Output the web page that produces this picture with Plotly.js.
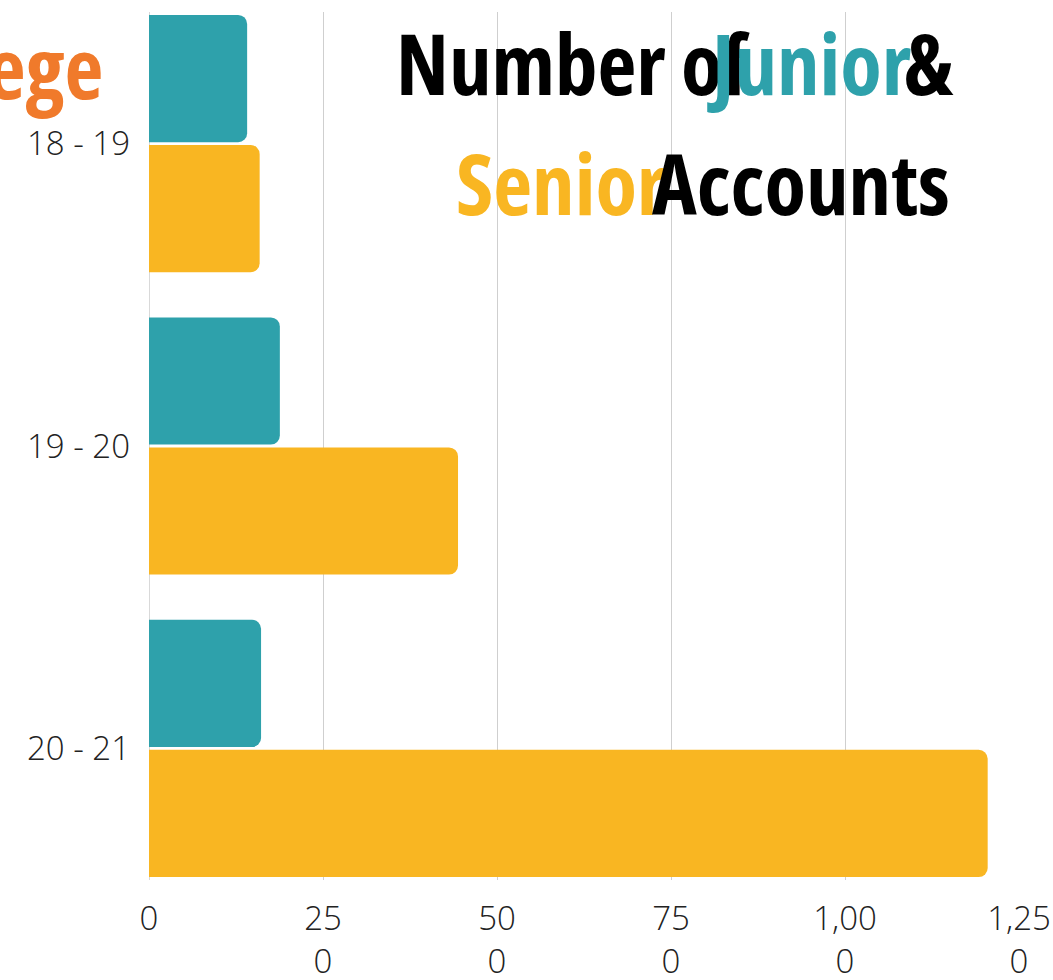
<!DOCTYPE html>
<html>
<head>
<meta charset="utf-8">
<script src="https://cdn.plot.ly/plotly-3.0.1.min.js"></script>
<style>
html,body{margin:0;padding:0;background:#fff;}
#chart{width:1053px;height:980px;}
.annotation-text{font-stretch:75% !important;}
</style>
</head>
<body>
<div id="chart"></div>
<script>
const categories = ['18 - 19', '19 - 20', '20 - 21'];
const juniorValues = [141, 188, 161];
const seniorValues = [159, 444, 1205];
const xTickVals = [0, 250, 500, 750, 1000, 1250];
const xTickText = ['0', '25<br>0', '50<br>0', '75<br>0', '1,00<br>0', '1,25<br>0'];
const seriesNames = ['Junior', 'Senior'];

const TEAL = '#2EA1AB';
const YELLOW = '#F9B622';
const ORANGE = '#F07A2B';
const W = 1053, H = 980;
const M = {l: 149, r: 34, t: 12, b: 100};
const plotW = W - M.l - M.r, plotH = H - M.t - M.b;
const px = x => (x - M.l) / plotW;
const py = y => (H - M.b - y) / plotH;

const titleFont = (c) => ({family: '"Open Sans", sans-serif', size: 85, color: c, weight: 700});

function ann(text, x, y, color, xanchor) {
  return {text: text, xref: 'paper', yref: 'paper', x: px(x), y: py(y), xanchor: xanchor || 'left', yanchor: 'middle',
    showarrow: false, font: titleFont(color), borderpad: 0};
}

const data = [
  {type: 'bar', orientation: 'h', name: seriesNames[0], y: categories, x: juniorValues, marker: {color: TEAL, line: {width: 0}}, hoverinfo: 'none'},
  {type: 'bar', orientation: 'h', name: seriesNames[1], y: categories, x: seniorValues, marker: {color: YELLOW, line: {width: 0}}, hoverinfo: 'none'}
];

const layout = {
  width: W, height: H,
  margin: M,
  paper_bgcolor: '#fff', plot_bgcolor: '#fff',
  showlegend: false,
  barmode: 'group',
  bargap: 0.14,
  bargroupgap: 0.022,
  barcornerradius: 9,
  xaxis: {
    range: [0, 1250], tickvals: xTickVals, ticktext: xTickText,
    showgrid: true, gridcolor: '#cfcfcf', gridwidth: 1,
    zeroline: true, zerolinecolor: '#d9d9d9', zerolinewidth: 1,
    showline: false, ticks: '', ticklabelstandoff: 16,
    tickfont: {family: '"Open Sans", sans-serif', size: 33, color: '#222', weight: 300},
    fixedrange: true
  },
  yaxis: {
    type: 'category', range: [2.435, -0.435],
    showgrid: false, zeroline: false, showline: false, ticks: '',
    ticklabelstandoff: 18,
    tickfont: {family: '"Open Sans", sans-serif', size: 33, color: '#222', weight: 300},
    fixedrange: true
  },
  annotations: [
    ann('College', 104, 66, ORANGE, 'right'),
    ann('Number of', 395, 62, '#000'),
    ann('Junior', 706, 62, TEAL),
    ann('&', 903, 62, '#000'),
    ann('Senior', 455, 182, YELLOW),
    ann('Accounts', 651, 182, '#000')
  ]
};

Plotly.newPlot('chart', data, layout, {displayModeBar: false, staticPlot: true});
</script>
</body>
</html>
